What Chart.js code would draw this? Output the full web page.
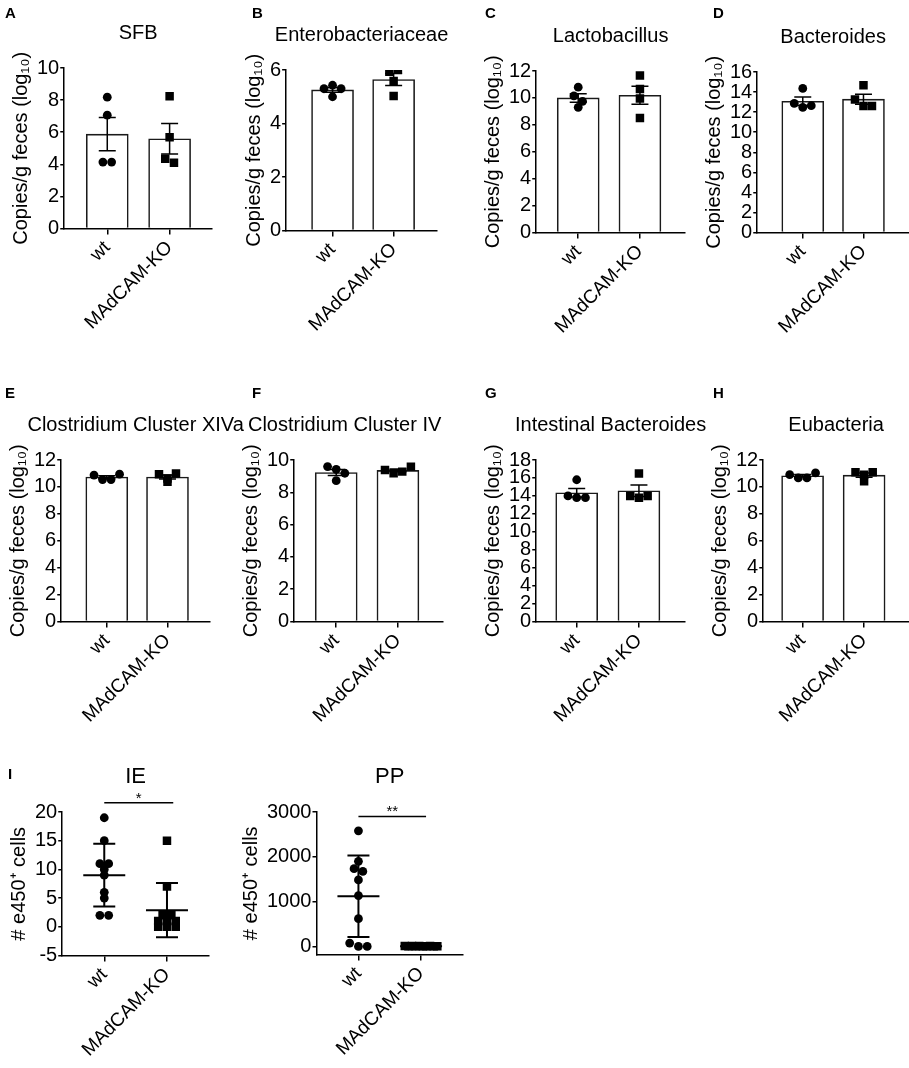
<!DOCTYPE html>
<html>
<head>
<meta charset="utf-8">
<script src="https://cdn.jsdelivr.net/npm/chart.js@4.4.1/dist/chart.umd.min.js"></script>
<style>
  body { margin: 0; background: #fff; }
  #fig { position: relative; width: 909px; height: 1068px; overflow: hidden; background: #fff; }
  .panel { position: absolute; }
  .letter { position: absolute; font: bold 15px "Liberation Sans", Arial, sans-serif; line-height: 15px; color: #000; }
</style>
</head>
<body>
<div id="fig"></div>
<script>
// groups on the x axis
const groups = ['wt', 'MAdCAM-KO'];

// copies/g feces (log10), one value per mouse
const sfbWt = [8.18, 7.06, 4.14, 4.14];
const sfbKo = [8.24, 5.69, 4.35, 4.10];
const enteroWt = [5.30, 5.43, 5.30, 5.00];
const enteroKo = [5.93, 6.02, 5.59, 5.03];
const lactoWt = [10.80, 10.15, 9.75, 9.30];
const lactoKo = [11.67, 10.67, 9.95, 8.50];
const bacteroWt = [14.36, 12.87, 12.47, 12.64];
const bacteroKo = [14.69, 13.27, 12.60, 12.60];
const clostXIVaWt = [10.88, 10.55, 10.55, 10.95];
const clostXIVaKo = [10.95, 10.38, 10.63, 11.00];
const clostIVWt = [9.59, 9.42, 9.18, 8.72];
const clostIVKo = [9.38, 9.18, 9.28, 9.59];
const intBacteroWt = [15.80, 14.00, 13.80, 13.80];
const intBacteroKo = [16.50, 14.00, 13.80, 14.00];
const eubactWt = [10.91, 10.67, 10.67, 11.04];
const eubactKo = [11.09, 10.42, 10.91, 11.09];

// number of e450+ cells per mouse
const ieWt = [19, 15, 11, 11, 10, 9, 6, 5, 2, 2];
const ieKo = [15, 7, 2, 2, 1, 1, 1, 0, 0, 0];
const ppWt = [2580, 1900, 1735, 1675, 1485, 1135, 620, 75, 0, 0];
const ppKo = [10, 5, 8, 3, 12, 6, 4, 9, 7, 2];

// y tick labels
const ticks6 = [0, 2, 4, 6];
const ticks10 = [0, 2, 4, 6, 8, 10];
const ticks12 = [0, 2, 4, 6, 8, 10, 12];
const ticks16 = [0, 2, 4, 6, 8, 10, 12, 14, 16];
const ticks18 = [0, 2, 4, 6, 8, 10, 12, 14, 16, 18];
const ticksIE = [-5, 0, 5, 10, 15, 20];
const ticksPP = [0, 1000, 2000, 3000];

const copiesTitle = 'Copies/g feces (log\u2081\u2080)';
const cellsTitle = '# e450\u207A cells';

// area = where the plot area must land in the figure (px)
const panels = [
  {letter: 'A', lx: 5, ly: 5, title: 'SFB', wt: sfbWt, ko: sfbKo, yTicks: ticks10, kind: 'bar',
   area: {left: 64, top: 68, w: 148, h: 161}, xMin: -0.69, xMax: 1.68},
  {letter: 'B', lx: 252, ly: 5, title: 'Enterobacteriaceae', wt: enteroWt, ko: enteroKo, yTicks: ticks6, kind: 'bar',
   area: {left: 286, top: 70, w: 151, h: 161}, xMin: -0.76, xMax: 1.71},
  {letter: 'C', lx: 485, ly: 5, title: 'Lactobacillus', wt: lactoWt, ko: lactoKo, yTicks: ticks12, kind: 'bar',
   area: {left: 536, top: 71, w: 149, h: 162}, xMin: -0.68, xMax: 1.73},
  {letter: 'D', lx: 713, ly: 5, title: 'Bacteroides', wt: bacteroWt, ko: bacteroKo, yTicks: ticks16, kind: 'bar',
   area: {left: 757, top: 72, w: 152, h: 161}, xMin: -0.75, xMax: 1.75},
  {letter: 'E', lx: 5, ly: 385, title: 'Clostridium Cluster XIVa', wt: clostXIVaWt, ko: clostXIVaKo, yTicks: ticks12, kind: 'bar',
   area: {left: 61, top: 460, w: 149, h: 162}, xMin: -0.75, xMax: 1.70},
  {letter: 'F', lx: 252, ly: 385, title: 'Clostridium Cluster IV', wt: clostIVWt, ko: clostIVKo, yTicks: ticks10, kind: 'bar',
   area: {left: 294, top: 460, w: 149, h: 162}, xMin: -0.68, xMax: 1.73, titleShift: -24},
  {letter: 'G', lx: 485, ly: 385, title: 'Intestinal Bacteroides', wt: intBacteroWt, ko: intBacteroKo, yTicks: ticks18, kind: 'bar',
   area: {left: 536, top: 460, w: 149, h: 162}, xMin: -0.65, xMax: 1.74},
  {letter: 'H', lx: 713, ly: 385, title: 'Eubacteria', wt: eubactWt, ko: eubactKo, yTicks: ticks12, kind: 'bar',
   area: {left: 763, top: 460, w: 146, h: 162}, xMin: -0.64, xMax: 1.73},
  {letter: 'I', lx: 8, ly: 766, title: 'IE', wt: ieWt, ko: ieKo, yTicks: ticksIE, kind: 'dot', yTitle: cellsTitle,
   area: {left: 62, top: 812, w: 147, h: 144}, xMin: -0.67, xMax: 1.67, titleSize: 22,
   sig: {y: 21.6, to: 1.1, text: '*'}, spreadFrac: 0.035},
  {title: 'PP', wt: ppWt, ko: ppKo, yTicks: ticksPP, kind: 'dot', yTitle: cellsTitle, yMin: -180,
   area: {left: 316, top: 812, w: 147, h: 143}, xMin: -0.67, xMax: 1.67, titleSize: 22,
   sig: {y: 2900, to: 1.08, text: '**'}}
];

Chart.defaults.font.family = '"Liberation Sans", Arial, sans-serif';
Chart.defaults.color = '#000';

function mean(a) { return a.reduce((s, v) => s + v, 0) / a.length; }
function sd(a) {
  const m = mean(a);
  return Math.sqrt(a.reduce((s, v) => s + (v - m) * (v - m), 0) / (a.length - 1));
}

// GraphPad-like scatter: points with nearly equal values sit side by side
function spread(values, center, thr) {
  const order = values.map((v, i) => i).sort((a, b) => values[b] - values[a]);
  const off = new Array(values.length).fill(0);
  let i = 0;
  while (i < order.length) {
    const group = [order[i]];
    let j = i + 1;
    while (j < order.length && values[order[i]] - values[order[j]] < thr) { group.push(order[j]); j++; }
    group.sort((a, b) => a - b);
    const step = Math.min(0.14, 0.52 / Math.max(group.length - 1, 1));
    group.forEach((k, n) => { off[k] = (n - (group.length - 1) / 2) * step; });
    i = j;
  }
  return values.map((v, k) => ({x: center + off[k], y: v}));
}

function drawSummary(chart, p) {
  const ctx = chart.ctx, xs = chart.scales.x, ys = chart.scales.y;
  ctx.save();
  ctx.strokeStyle = '#000';
  [p.wt, p.ko].forEach((vals, g) => {
    const m = mean(vals);
    const e = p.kind === 'bar' ? sd(vals) / Math.sqrt(vals.length) : sd(vals);
    const x = xs.getPixelForValue(g);
    const yHi = ys.getPixelForValue(m + e), yLo = ys.getPixelForValue(m - e);
    const cap = p.kind === 'bar' ? 8.5 : 11;
    ctx.lineWidth = p.kind === 'bar' ? 1.5 : 2;
    ctx.beginPath();
    ctx.moveTo(x, yHi); ctx.lineTo(x, yLo);
    ctx.moveTo(x - cap, yHi); ctx.lineTo(x + cap, yHi);
    ctx.moveTo(x - cap, yLo); ctx.lineTo(x + cap, yLo);
    if (p.kind === 'dot') {
      const ym = ys.getPixelForValue(m);
      ctx.moveTo(x - 21, ym); ctx.lineTo(x + 21, ym);
    }
    ctx.stroke();
  });
  ctx.restore();
}

function panelPlugin(p) {
  return {
    id: 'panelExtras',
    beforeDatasetsDraw(chart) { if (p.kind === 'dot') drawSummary(chart, p); },
    afterDatasetDraw(chart, args) { if (p.kind === 'bar' && args.index === 0) drawSummary(chart, p); },
    afterDraw(chart) {
      const ctx = chart.ctx, ca = chart.chartArea, xs = chart.scales.x, ys = chart.scales.y;
      ctx.save();
      ctx.fillStyle = '#000';
      ctx.font = (p.titleSize || 20) + 'px "Liberation Sans", Arial, sans-serif';
      ctx.textAlign = 'center';
      ctx.textBaseline = 'middle';
      ctx.fillText(p.title, (ca.left + ca.right) / 2 + (p.titleShift || 0), ca.top - 35);
      if (p.sig) {
        const y = ys.getPixelForValue(p.sig.y);
        const x0 = xs.getPixelForValue(0), x1 = xs.getPixelForValue(p.sig.to);
        ctx.strokeStyle = '#000';
        ctx.lineWidth = 1.5;
        ctx.beginPath(); ctx.moveTo(x0, y); ctx.lineTo(x1, y); ctx.stroke();
        ctx.font = '15px "Liberation Sans", Arial, sans-serif';
        ctx.textBaseline = 'alphabetic';
        ctx.fillText(p.sig.text, (x0 + x1) / 2, y);
      }
      ctx.restore();
    }
  };
}

function buildConfig(p) {
  const ys = p.yTicks;
  const thr = (p.spreadFrac || 0.045) * (ys[ys.length - 1] - (p.yMin !== undefined ? p.yMin : ys[0]));
  const datasets = [];
  if (p.kind === 'bar') {
    datasets.push({
      type: 'bar',
      data: [{x: 0, y: mean(p.wt)}, {x: 1, y: mean(p.ko)}],
      backgroundColor: '#fff', borderColor: '#1a1a1a', borderWidth: 1.6,
      barThickness: 42, order: 3
    });
  }
  datasets.push({
    type: 'scatter', data: spread(p.wt, 0, thr),
    pointStyle: 'circle', radius: 4.4, backgroundColor: '#000', borderColor: '#000', borderWidth: 0, order: 1
  });
  datasets.push({
    type: 'scatter', data: spread(p.ko, 1, thr),
    pointStyle: 'rect', radius: 6, backgroundColor: '#000', borderColor: '#000', borderWidth: 0, order: 1
  });
  return {
    type: p.kind === 'bar' ? 'bar' : 'scatter',
    data: {datasets},
    options: {
      responsive: false,
      animation: false,
      events: [],
      layout: {padding: {top: 52, right: 40, left: 0, bottom: 0}},
      plugins: {legend: {display: false}, tooltip: {enabled: false}, title: {display: false}},
      scales: {
        x: {
          type: 'linear', min: p.xMin, max: p.xMax, offset: false,
          afterBuildTicks(s) { s.ticks = [{value: 0}, {value: 1}]; },
          afterFit(s) { s.paddingLeft = 0; s.paddingRight = 0; },
          ticks: {
            callback: v => groups[v], font: {size: 19}, color: '#000',
            minRotation: 45, maxRotation: 45, padding: 2, autoSkip: false
          },
          grid: {display: true, offset: false, drawOnChartArea: false, drawTicks: true, tickLength: 6, color: '#000', lineWidth: 1.5},
          border: {display: true, color: '#000', width: 1.5}
        },
        y: {
          type: 'linear',
          min: p.yMin !== undefined ? p.yMin : ys[0], max: ys[ys.length - 1],
          afterBuildTicks(s) { s.ticks = ys.map(v => ({value: v})); },
          afterFit(s) { s.paddingTop = 0; s.paddingBottom = 0; },
          ticks: {callback: v => String(v), font: {size: 20}, color: '#000', padding: 1, autoSkip: false},
          grid: {display: true, drawOnChartArea: false, drawTicks: true, tickLength: 4, color: '#000', lineWidth: 1.5},
          border: {display: true, color: '#000', width: 1.5},
          title: {display: true, text: p.yTitle || copiesTitle, font: {size: 20}, color: '#000', padding: {top: 0, bottom: 3}}
        }
      }
    },
    plugins: [panelPlugin(p)]
  };
}

const fig = document.getElementById('fig');

function makeChart(p, w, h) {
  const wrap = document.createElement('div');
  wrap.className = 'panel';
  const canvas = document.createElement('canvas');
  canvas.width = w;
  canvas.height = h;
  canvas.style.width = w + 'px';
  canvas.style.height = h + 'px';
  wrap.appendChild(canvas);
  fig.appendChild(wrap);
  return {wrap, chart: new Chart(canvas, buildConfig(p))};
}

panels.forEach(p => {
  // first pass measures the axes, second pass sizes the canvas so the plot area fits
  const w0 = 120 + p.area.w, h0 = 52 + p.area.h + 120;
  let {wrap, chart} = makeChart(p, w0, h0);
  const ca = chart.chartArea;
  const w1 = Math.round(w0 + p.area.w - (ca.right - ca.left));
  const h1 = Math.round(h0 + p.area.h - (ca.bottom - ca.top));
  chart.destroy();
  wrap.remove();
  ({wrap, chart} = makeChart(p, w1, h1));
  const ca2 = chart.chartArea;
  wrap.style.left = (p.area.left - ca2.left) + 'px';
  wrap.style.top = (p.area.top - ca2.top) + 'px';

  if (p.letter) {
    const d = document.createElement('div');
    d.className = 'letter';
    d.textContent = p.letter;
    d.style.left = p.lx + 'px';
    d.style.top = p.ly + 'px';
    fig.appendChild(d);
  }
});
</script>
</body>
</html>
